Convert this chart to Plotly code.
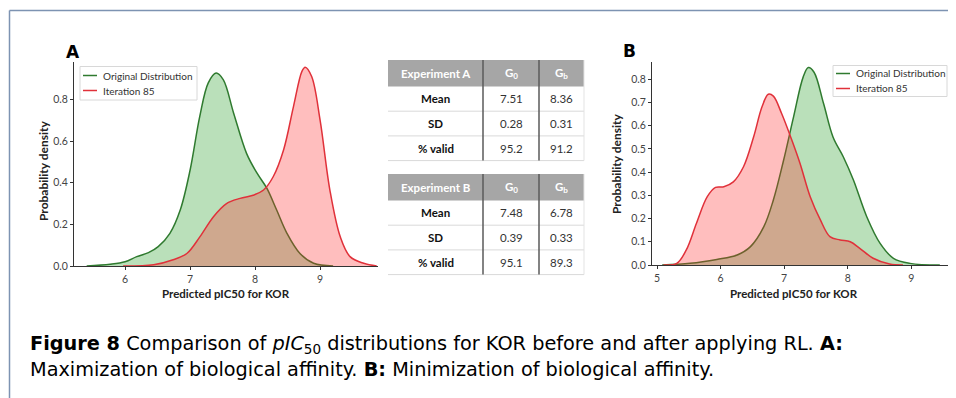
import plotly.graph_objects as go

# ---------------- data ----------------
# Panel A: maximization of biological affinity
a_orig_x = [5.41, 5.77, 6.00, 6.18, 6.36, 6.51, 6.69, 6.85, 7.00, 7.15, 7.28, 7.40, 7.51, 7.67, 7.87, 8.03, 8.18, 8.33, 8.49, 8.69, 8.90, 9.20]
a_orig_y = [0.000, 0.008, 0.020, 0.045, 0.064, 0.093, 0.157, 0.270, 0.460, 0.720, 0.880, 0.927, 0.895, 0.734, 0.540, 0.446, 0.374, 0.270, 0.157, 0.060, 0.013, 0.000]
a_iter_x = [5.97, 6.44, 6.74, 6.95, 7.15, 7.36, 7.56, 7.77, 7.97, 8.13, 8.28, 8.44, 8.59, 8.72, 8.77, 8.87, 9.00, 9.15, 9.31, 9.46, 9.67, 9.87]
a_iter_y = [0.000, 0.006, 0.030, 0.060, 0.140, 0.237, 0.300, 0.325, 0.340, 0.365, 0.430, 0.560, 0.766, 0.935, 0.955, 0.910, 0.700, 0.365, 0.140, 0.045, 0.013, 0.000]

# Panel B: minimization of biological affinity
b_orig_x = [5.08, 5.52, 5.94, 6.26, 6.47, 6.68, 6.83, 6.99, 7.15, 7.30, 7.38, 7.47, 7.62, 7.77, 7.93, 8.09, 8.30, 8.51, 8.72, 8.98, 9.45]
b_orig_y = [0.000, 0.007, 0.024, 0.043, 0.079, 0.165, 0.280, 0.450, 0.640, 0.810, 0.850, 0.830, 0.695, 0.550, 0.466, 0.366, 0.208, 0.093, 0.029, 0.007, 0.000]
b_iter_x = [5.10, 5.31, 5.46, 5.62, 5.79, 5.92, 6.05, 6.20, 6.36, 6.52, 6.65, 6.75, 6.83, 6.96, 7.12, 7.25, 7.41, 7.57, 7.72, 7.88, 8.04, 8.19, 8.40, 8.66, 8.87]
b_iter_y = [0.000, 0.007, 0.065, 0.180, 0.294, 0.334, 0.337, 0.358, 0.423, 0.552, 0.680, 0.735, 0.727, 0.652, 0.538, 0.437, 0.294, 0.194, 0.122, 0.108, 0.100, 0.072, 0.029, 0.004, 0.000]

series_names = ["Original Distribution", "Iteration 85"]

a_xticks = [6, 7, 8, 9]
a_yticks = [0.0, 0.2, 0.4, 0.6, 0.8]
b_xticks = [5, 6, 7, 8, 9]
b_yticks = [0.0, 0.1, 0.2, 0.3, 0.4, 0.5, 0.6, 0.7, 0.8]

# Tables
table_a_header = ["Experiment A", "G<sub>0</sub>", "G<sub>b</sub>"]
table_b_header = ["Experiment B", "G<sub>0</sub>", "G<sub>b</sub>"]
table_rows = ["Mean", "SD", "% valid"]
exp_a_g0 = ["7.51", "0.28", "95.2"]
exp_a_gb = ["8.36", "0.31", "91.2"]
exp_b_g0 = ["7.48", "0.39", "95.1"]
exp_b_gb = ["6.78", "0.33", "89.3"]

x_title = "Predicted pIC50 for KOR"
y_title = "Probability density"
caption_1 = ("<b>Figure 8</b> Comparison of <i>pIC</i><sub>50</sub> distributions for KOR "
             "before and after applying RL. <b>A:</b>")
caption_2 = "Maximization of biological affinity. <b>B:</b> Minimization of biological affinity."

# ---------------- figure ----------------
# page body has an 8px margin: the figure is sized to fit the window and
# positions below are given in window pixels, shifted by that offset.
OX, OY = 8, 8
W, H = 948, 390
def px(x):
    return (x - OX) / W
def py(y):
    return 1 - (y - OY) / H

GREEN = "#2f7a2f"
RED = "#e0313a"
GREEN_FILL = "rgba(0,140,0,0.27)"
RED_FILL = "rgba(255,40,40,0.30)"
FONT = "Lato"

fig = go.Figure()

def add_pair(ox, oy, ix, iy, xa, ya):
    fig.add_trace(go.Scatter(x=ox, y=oy, mode="lines", name=series_names[0],
                             line=dict(color=GREEN, width=1.5, shape="spline", smoothing=1.0),
                             fill="tozeroy", fillcolor=GREEN_FILL, xaxis=xa, yaxis=ya, showlegend=False, hoverinfo="skip"))
    fig.add_trace(go.Scatter(x=ix, y=iy, mode="lines", name=series_names[1],
                             line=dict(color=RED, width=1.5, shape="spline", smoothing=1.0),
                             fill="tozeroy", fillcolor=RED_FILL, xaxis=xa, yaxis=ya, showlegend=False, hoverinfo="skip"))

add_pair(a_orig_x, a_orig_y, a_iter_x, a_iter_y, "x", "y")
add_pair(b_orig_x, b_orig_y, b_iter_x, b_iter_y, "x2", "y2")

axis_common = dict(showline=True, linecolor="#333333", linewidth=1, ticks="outside", ticklen=3, tickwidth=1,
                   tickcolor="#333333", showgrid=False, zeroline=False, tickfont=dict(family=FONT, size=10.5, color="#444444"),
                   fixedrange=True)

fig.update_layout(
    width=W, height=H, margin=dict(l=0, r=0, t=0, b=0, autoexpand=False),
    paper_bgcolor="white", plot_bgcolor="rgba(0,0,0,0)", showlegend=False,
    xaxis=dict(domain=[px(74), px(378)], range=[5.215, 9.89], tickvals=a_xticks, anchor="y", **axis_common),
    yaxis=dict(domain=[py(266), py(62)], range=[0, 0.98], tickvals=a_yticks, tickformat=".1f", anchor="x", **axis_common),
    xaxis2=dict(domain=[px(652), px(950)], range=[4.92, 9.61], tickvals=b_xticks, anchor="y2", **axis_common),
    yaxis2=dict(domain=[py(265), py(62)], range=[0, 0.874], tickvals=b_yticks, tickformat=".1f", anchor="x2", **axis_common),
)

ann = []
shapes = []

# manual legends (box, short line samples, labels)
def draw_legend(bx0, bx1, by0, by1, lx0, lx1, tx, ys):
    shapes.append(dict(type="rect", xref="paper", yref="paper", x0=px(bx0), x1=px(bx1), y0=py(by1), y1=py(by0),
                       fillcolor="white", line=dict(color="#d8d8d8", width=1)))
    for name, col, yy in zip(series_names, (GREEN, RED), ys):
        shapes.append(dict(type="line", xref="paper", yref="paper", x0=px(lx0), x1=px(lx1), y0=py(yy), y1=py(yy),
                           line=dict(color=col, width=1.5)))
        ann.append(dict(x=px(tx), y=py(yy), xref="paper", yref="paper", text=name, showarrow=False,
                        xanchor="left", yanchor="middle", font=dict(family=FONT, size=10, color="#333333")))

draw_legend(80, 197, 66.5, 100, 83, 97, 101, [75.5, 90.5])
draw_legend(833, 947, 65.5, 96.5, 836, 850, 854, [73.5, 88.5])

# axis titles
for cx in (226, 794):
    ann.append(dict(x=px(cx), y=py(293), xref="paper", yref="paper", text="<b>%s</b>" % x_title, showarrow=False,
                    font=dict(family=FONT, size=11.5, color="#222222"), xanchor="center", yanchor="middle"))
for cx, cy in ((43, 171), (616, 164)):
    ann.append(dict(x=px(cx), y=py(cy), xref="paper", yref="paper", text="<b>%s</b>" % y_title, showarrow=False,
                    textangle=-90, font=dict(family=FONT, size=12, color="#222222"), xanchor="center", yanchor="middle"))
# panel labels
ann.append(dict(x=px(64), y=py(52), xref="paper", yref="paper", text="<b>A</b>", showarrow=False,
                yanchor="middle", font=dict(family="DejaVu Sans", size=17, color="black")))
ann.append(dict(x=px(629), y=py(51), xref="paper", yref="paper", text="<b>B</b>", showarrow=False,
                yanchor="middle", font=dict(family="DejaVu Sans", size=17, color="black")))

# figure frame (top and left)
shapes.append(dict(type="line", xref="paper", yref="paper", x0=px(9.5), x1=px(9.5), y0=0, y1=py(10.5),
                   line=dict(color="#7d93b2", width=1.5)))
shapes.append(dict(type="line", xref="paper", yref="paper", x0=px(9.5), x1=1, y0=py(10.5), y1=py(10.5),
                   line=dict(color="#7d93b2", width=1.5)))

# tables
tx0, tx1, c1, c2 = 388, 584, 483, 539
col_centers = [(tx0 + c1) / 2, (c1 + c2) / 2, (c2 + tx1) / 2]

def draw_table(top, header, g0, gb):
    hh, rh = 26.5, 24.7
    hb = top + hh
    bottom = hb + rh * len(table_rows)
    shapes.append(dict(type="rect", xref="paper", yref="paper", x0=px(tx0), x1=px(tx1), y0=py(hb), y1=py(top),
                       fillcolor="#a6a6a6", line=dict(width=0), layer="below"))
    for i in range(len(table_rows)):
        yb = hb + rh * (i + 1)
        shapes.append(dict(type="line", xref="paper", yref="paper", x0=px(tx0), x1=px(tx1), y0=py(yb), y1=py(yb),
                           line=dict(color="#d9d9d9", width=1)))
    shapes.append(dict(type="line", xref="paper", yref="paper", x0=px(tx1), x1=px(tx1), y0=py(bottom), y1=py(top),
                       line=dict(color="#e3e3e3", width=1)))
    for cx in (c1, c2):
        shapes.append(dict(type="line", xref="paper", yref="paper", x0=px(cx), x1=px(cx), y0=py(bottom), y1=py(top),
                           line=dict(color="#5a5a5a", width=1.5)))
    for j, t in enumerate(header):
        ann.append(dict(x=px(col_centers[j]), y=py(top + hh / 2), xref="paper", yref="paper", text="<b>%s</b>" % t,
                        showarrow=False, yanchor="middle", font=dict(family=FONT, size=11.5, color="white")))
    for i, r in enumerate(table_rows):
        yc = hb + rh * (i + 0.5)
        ann.append(dict(x=px(col_centers[0]), y=py(yc), xref="paper", yref="paper", text="<b>%s</b>" % r,
                        showarrow=False, yanchor="middle", font=dict(family=FONT, size=11.5, color="#111111")))
        ann.append(dict(x=px(col_centers[1]), y=py(yc), xref="paper", yref="paper", text=g0[i],
                        showarrow=False, yanchor="middle", font=dict(family=FONT, size=11.5, color="#333333")))
        ann.append(dict(x=px(col_centers[2]), y=py(yc), xref="paper", yref="paper", text=gb[i],
                        showarrow=False, yanchor="middle", font=dict(family=FONT, size=11.5, color="#333333")))

draw_table(60, table_a_header, exp_a_g0, exp_a_gb)
draw_table(174, table_b_header, exp_b_g0, exp_b_gb)

# caption
ann.append(dict(x=px(28), y=py(344), xref="paper", yref="paper", text=caption_1, showarrow=False, xanchor="left",
                yanchor="middle", font=dict(family="DejaVu Sans", size=19.3, color="black")))
ann.append(dict(x=px(28), y=py(369), xref="paper", yref="paper", text=caption_2, showarrow=False, xanchor="left",
                yanchor="middle", font=dict(family="DejaVu Sans", size=19.3, color="black")))

fig.update_layout(annotations=ann, shapes=shapes)
fig.write_html("out.html")
